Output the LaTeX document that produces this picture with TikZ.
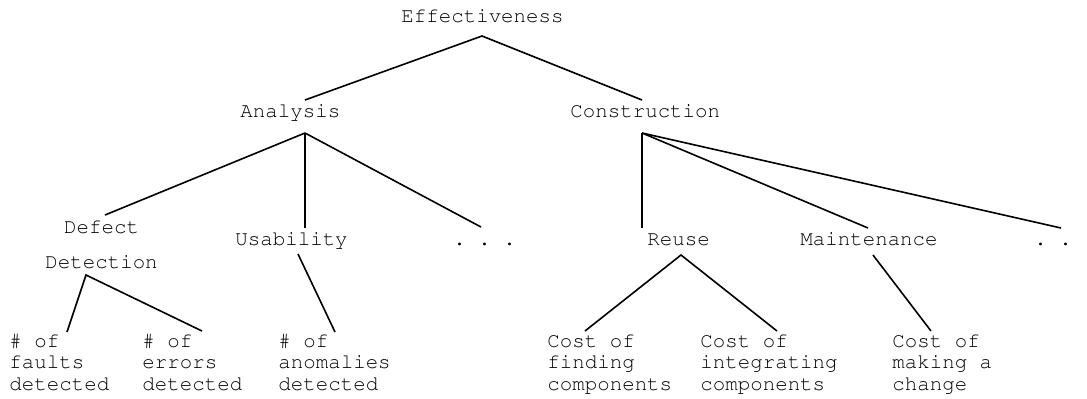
\documentclass[tikz,border=0pt]{standalone}
\usepackage[T1]{fontenc}
\usepackage{courier}

\begin{document}
\begin{tikzpicture}[x=0.5pt, y=-0.5pt,
		metric/.style={anchor=base west, inner sep=0pt, align=left, font=\ttfamily\frenchspacing\fontsize{10.4}{10.75}\selectfont},
		branch/.style={line width=0.8pt} ]
	\useasboundingbox (0,0) rectangle (1087,398);
	% levels 0 and 1
	\node[metric] (eff) at (401,22) {Effectiveness};
	\node[metric] (ana) at (240,117) {Analysis};
	\node[metric] (con) at (570,117) {Construction};
	% level 2 (multi-line nodes sit on their last line)
	\node[metric, align=center] (dd) at (45,268) {Defect\\[6.75pt]Detection};
	\node[metric] (use) at (235,245) {Usability};
	\node[metric] (dotsa) at (453,245) {. . .};
	\node[metric] (reuse) at (647,245) {Reuse};
	\node[metric] (maint) at (800,245) {Maintenance};
	\node[metric] (dotsc) at (1034,245) {. .};
	% level 3
	\node[metric] (faults) at (9,390) {\# of\\faults\\detected};
	\node[metric] (errors) at (142,390) {\# of\\errors\\detected};
	\node[metric] (anom) at (278,390) {\# of\\anomalies\\detected};
	\node[metric] (find) at (547,390) {Cost of\\finding\\components};
	\node[metric] (integ) at (700,390) {Cost of\\integrating\\components};
	\node[metric] (change) at (892,390) {Cost of\\making a\\change};

	\draw[branch] ([shift={(65,-17)}]ana.base west) -- ([shift={(81,14)}]eff.base west) -- ([shift={(72,-17)}]con.base west);
	\draw[branch] ([shift={(65,16)}]ana.base west) -- ([shift={(60,-53)}]dd.base west);
	\draw[branch] ([shift={(65,16)}]ana.base west) -- ([shift={(70,-17)}]use.base west);
	\draw[branch] ([shift={(65,16)}]ana.base west) -- ([shift={(28,-18)}]dotsa.base west);
	\draw[branch] ([shift={(72,16)}]con.base west) -- ([shift={(-5,-17)}]reuse.base west);
	\draw[branch] ([shift={(72,16)}]con.base west) -- ([shift={(68,-17)}]maint.base west);
	\draw[branch] ([shift={(72,16)}]con.base west) -- ([shift={(27,-17)}]dotsc.base west);
	\draw[branch] ([shift={(58,-58)}]faults.base west) -- ([shift={(41,7)}]dd.base west) -- ([shift={(60,-59)}]errors.base west);
	\draw[branch] ([shift={(63,9)}]use.base west) -- ([shift={(57,-58)}]anom.base west);
	\draw[branch] ([shift={(38,-59)}]find.base west) -- ([shift={(34,10)}]reuse.base west) -- ([shift={(77,-59)}]integ.base west);
	\draw[branch] ([shift={(73,10)}]maint.base west) -- ([shift={(39,-59)}]change.base west);
\end{tikzpicture}
\end{document}
